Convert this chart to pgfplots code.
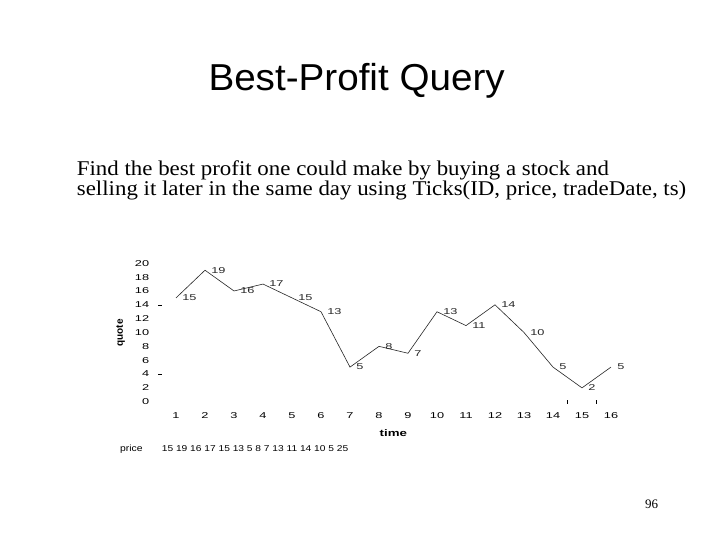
\documentclass[border=0pt]{standalone}
\usepackage{fontspec}
\setmainfont{Liberation Serif}
\newfontfamily\arial{Liberation Sans}
\usepackage{pgfplots}
\usepackage{pgfplotstable}
\pgfplotsset{compat=1.18}

% quote per time step
\pgfplotstableread{
t  q
1  15
2  19
3  16
4  17
5  15
6  13
7  5
8  8
9  7
10 13
11 11
12 14
13 10
14 5
15 2
16 5
}\quotes

\newcommand\wide[1]{\scalebox{1.5}[1]{#1}}
\newcommand\chartfont{\arial\fontsize{8.5}{10}\selectfont}

\begin{document}
\begin{tikzpicture}
\path[fill=white] (0,0) rectangle (720pt,-540pt);

\node[anchor=base west, inner sep=0pt, font=\arial\fontsize{37.5}{40}\selectfont]
  at (208.3pt,-91pt) {\scalebox{1.03}[1]{Best-Profit Query}};
\node[anchor=base west, inner sep=0pt, font=\fontsize{21}{22}\selectfont]
  at (76.7pt,-175.7pt) {\scalebox{1.09}[1]{Find the best profit one could make by buying a stock and}};
\node[anchor=base west, inner sep=0pt, font=\fontsize{21}{22}\selectfont]
  at (76.7pt,-196pt) {\scalebox{1.09}[1]{selling it later in the same day using Ticks(ID, price, tradeDate, ts)}};

\begin{axis}[
  at={(161.5pt,-401.7pt)}, anchor=south west,
  x=29pt, y=6.92pt,
  xmin=0.5, xmax=16.5, ymin=0, ymax=20,
  clip=false,
  axis line style={draw=none},
  tick pos=left,
  xtick={1,...,16}, ytick={0,2,...,20},
  xtick style={draw=none}, ytick style={draw=none},
  /pgf/number format/assume math mode=true,
  xticklabel={\wide{\pgfmathprintnumber{\tick}}},
  yticklabel={\wide{\pgfmathprintnumber{\tick}}},
  ticklabel style={font=\chartfont, inner sep=0pt},
  xticklabel style={anchor=north, yshift=-10.3pt},
  yticklabel style={anchor=east, xshift=-12.2pt},
  extra y ticks={4,14}, extra y tick labels={{},{}},
  extra y tick style={ytick style={draw=black, line width=0.6pt}, tick align=outside, major tick length=3.4pt},
  extra x ticks={14.5,15.5}, extra x tick labels={{},{}},
  extra x tick style={xtick style={draw=black, line width=0.6pt}, tick align=center, major tick length=4pt},
  nodes near coords={\wide{\pgfmathprintnumber{\pgfplotspointmeta}}},
  every node near coord/.append style={font=\chartfont, anchor=west, inner sep=0pt, xshift=6pt},
]
\addplot[black!85, line width=0.6pt, mark=none] table[x=t, y=q] {\quotes};
\end{axis}

\node[rotate=90, inner sep=0pt, font=\arial\bfseries\fontsize{10}{12}\selectfont]
  at (120.7pt,-333pt) {quote};
\node[inner sep=0pt, font=\arial\bfseries\fontsize{9.5}{11}\selectfont]
  at (393.3pt,-432.7pt) {\scalebox{1.4}[1]{time}};
\node[anchor=west, inner sep=0pt, font=\arial\fontsize{9}{11}\selectfont]
  at (120pt,-449pt) {\scalebox{1.15}[1]{price}};
\node[anchor=west, inner sep=0pt, font=\chartfont]
  at (161.7pt,-449pt) {\scalebox{1.2}[1]{15 19 16 17 15 13 5 8 7 13 11 14 10 5 25}};

\node[font=\fontsize{13}{15}\selectfont] at (651.7pt,-504.3pt) {96};
\end{tikzpicture}
\end{document}
